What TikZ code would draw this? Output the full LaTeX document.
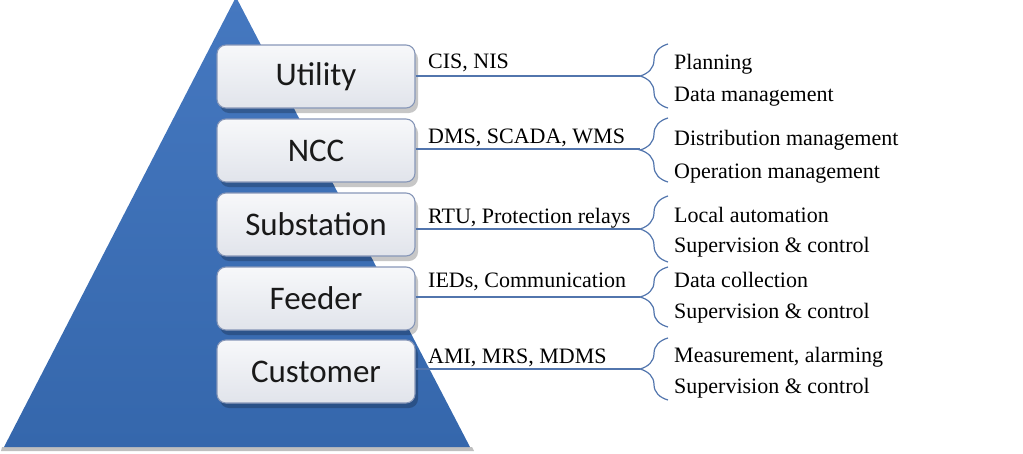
\documentclass[tikz,border=0pt]{standalone}
\usepackage{fontspec}
\setmainfont{Liberation Serif}
\newfontfamily\boxfont{Carlito}
\usetikzlibrary{decorations.pathreplacing,shadows}
\definecolor{tritop}{HTML}{4578C0}
\definecolor{tribot}{HTML}{3567AC}
\definecolor{boxline}{HTML}{8797B8}
\definecolor{boxtop}{HTML}{F7F8FA}
\definecolor{boxbot}{HTML}{E1E4EB}
\definecolor{conncol}{HTML}{5275AD}
\begin{document}
\begin{tikzpicture}[x=1pt,y=-1pt,
  level/.style={draw=boxline, line width=1.1pt, rounded corners=9pt,
    top color=boxtop, bottom color=boxbot,
    minimum width=198pt, minimum height=63pt, inner sep=0pt,
    font=\boxfont\fontsize{33}{36}\selectfont, text=black!90,
    drop shadow={shadow xshift=3pt, shadow yshift=-5pt, opacity=0.22, fill=black}},
  conn/.style={draw=conncol, line width=1.2pt},
  brc/.style={draw=conncol, line width=1.2pt, decorate,
    decoration={brace, amplitude=28pt}},
  tech/.style={anchor=base west, inner sep=0pt, font=\fontsize{22}{25}\selectfont},
  func/.style={anchor=base west, inner sep=0pt, font=\fontsize{22}{25}\selectfont}]
\useasboundingbox (0,0) rectangle (1023,453);
% pyramid
\fill[black!25] (2,447) -- (472,447) -- (474,451) -- (1,451) -- cycle;
\shade[top color=tritop, bottom color=tribot] (236,-3) -- (470,447) -- (4,447) -- cycle;
% levels
\node[level] (utility)    at (316,76.5)  {Utility};
\node[level] (ncc)        at (316,150.5) {NCC};
\node[level] (substation) at (316,224.5) {Substation};
\node[level] (feeder)     at (316,298.5) {Feeder};
\node[level] (customer)   at (316,371.5) {Customer};
% brace tips
\coordinate (tU) at (640,76);
\coordinate (tN) at (640,149);
\coordinate (tS) at (640,229);
\coordinate (tF) at (640,297);
\coordinate (tC) at (640,369);
% connectors
\draw[conn] (utility.east |- tU) -- (tU);
\draw[conn] (ncc.east |- tN) -- (tN);
\draw[conn] (substation.east |- tS) -- (tS);
\draw[conn] (feeder.east |- tF) -- (tF);
\draw[conn] (customer.east |- tC) -- (tC);
% braces
\draw[brc] (668,108) -- (668,44);
\draw[brc] (668,182) -- (668,118);
\draw[brc] (668,262) -- (668,196);
\draw[brc] (668,327) -- (668,267);
\draw[brc] (668,400) -- (668,338);
% technology labels
\node[tech] (lu) at (428,68)  {CIS, NIS};
\node[tech] (ln) at (428,143) {DMS, SCADA, WMS};
\node[tech] (ls) at (428,223) {RTU, Protection relays};
\node[tech] (lf) at (428,287) {IEDs, Communication};
\node[tech] (lc) at (428,363) {AMI, MRS, MDMS};
% function labels
\node[func] (fu1) at (674,69)  {Planning};
\node[func] (fu2) at (674,101) {Data management};
\node[func] (fn1) at (674,145) {Distribution management};
\node[func] (fn2) at (674,178) {Operation management};
\node[func] (fs1) at (674,222) {Local automation};
\node[func] (fs2) at (674,252) {Supervision \& control};
\node[func] (ff1) at (674,287) {Data collection};
\node[func] (ff2) at (674,318) {Supervision \& control};
\node[func] (fc1) at (674,362) {Measurement, alarming};
\node[func] (fc2) at (674,393) {Supervision \& control};
\end{tikzpicture}
\end{document}
